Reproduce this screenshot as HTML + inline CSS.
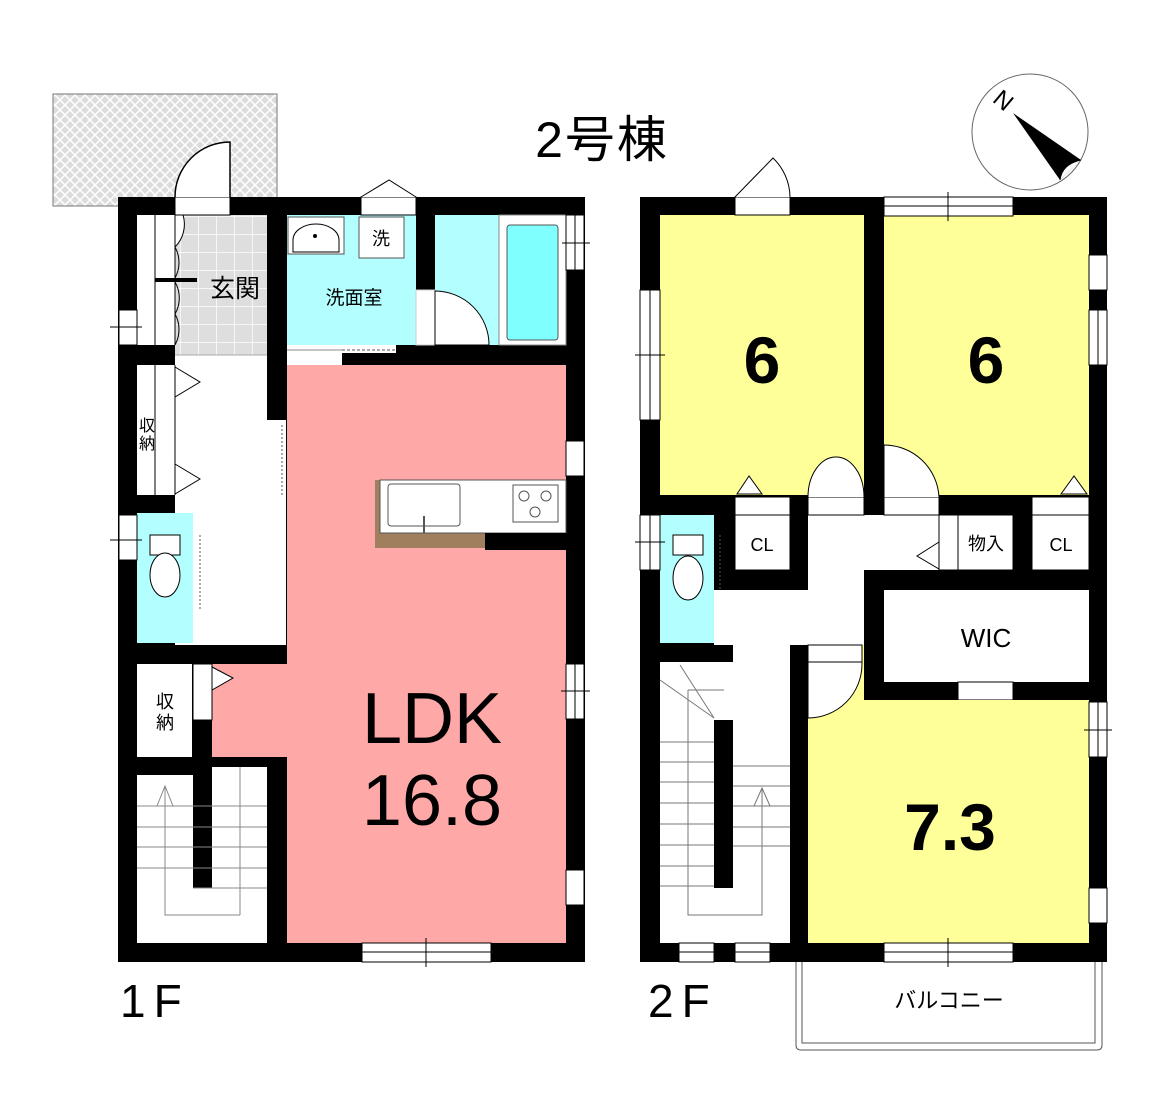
<!DOCTYPE html>
<html><head><meta charset="utf-8"><style>
html,body{margin:0;padding:0;background:#fff;}
svg{display:block}
text{font-family:"Liberation Sans","Noto Sans CJK JP",sans-serif;}
</style></head><body>
<svg width="1166" height="1096" viewBox="0 0 1166 1096" xmlns="http://www.w3.org/2000/svg">
<defs>
<pattern id="hatch" width="10" height="10" patternUnits="userSpaceOnUse">
<rect width="10" height="10" fill="#dcdcdc"/>
<path d="M0 0L10 10M10 0L0 10" stroke="#fff" stroke-width="1.5"/>
</pattern>
<pattern id="tile" width="18" height="18" patternUnits="userSpaceOnUse">
<rect width="18" height="18" fill="#dedede"/>
<path d="M0 0H18M0 0V18" stroke="#fff" stroke-width="1.5"/>
</pattern>
</defs>

<text x="602" y="157" font-size="50" text-anchor="middle" letter-spacing="2">2号棟</text>

<circle cx="1030" cy="132" r="58" fill="#fff" stroke="#666" stroke-width="1"/>
<polygon points="1013,113 1081,160 1060,180" fill="#000"/>
<path d="M1060,180 Q1062,164 1081,160" fill="#fff" stroke="#000" stroke-width="1"/>
<text x="1002" y="108" font-size="24" font-family="Liberation Serif" transform="rotate(40 1002 102)" text-anchor="middle">N</text>

<rect x="53" y="94" width="224" height="112" fill="url(#hatch)" stroke="#777" stroke-width="1"/>

<!-- ============ 1F ============ -->
<rect x="118" y="197" width="467" height="765" fill="#000"/>
<rect x="137" y="215" width="38" height="130" fill="#fff"/>
<rect x="175" y="215" width="92" height="140" fill="url(#tile)"/>
<line x1="155" y1="215" x2="155" y2="345" stroke="#000"/>
<line x1="175" y1="215" x2="175" y2="345" stroke="#000"/>
<rect x="155" y="278" width="42" height="4" fill="#000"/>
<path d="M175,215 H183 A32,32 0 0 1 175,247 Z" fill="#fff" stroke="#000"/>
<path d="M175,247 A32,32 0 0 1 175,278" fill="none" stroke="#000"/>
<path d="M175,282 A32,32 0 0 1 175,314" fill="none" stroke="#000"/>
<path d="M175,314 A32,32 0 0 1 175,345" fill="none" stroke="#000"/>
<text x="235" y="297" font-size="25" text-anchor="middle">玄関</text>
<rect x="175" y="197" width="55" height="18" fill="#fff" stroke="#000" stroke-width="1"/>
<path d="M175,197 A55,55 0 0 1 230,142 L230,197" fill="#fff" stroke="#000" stroke-width="1.5"/>
<rect x="175" y="355" width="92" height="290" fill="#fff"/>
<line x1="175" y1="355" x2="267" y2="355" stroke="#aaa"/>
<rect x="137" y="365" width="38" height="130" fill="#fff"/>
<line x1="155" y1="365" x2="155" y2="495" stroke="#000"/>
<line x1="175" y1="365" x2="175" y2="495" stroke="#000"/>
<polygon points="175,367 200,382 175,397" fill="#fff" stroke="#000"/>
<polygon points="175,464 200,479 175,494" fill="#fff" stroke="#000"/>
<text x="147" y="431" font-size="16" text-anchor="middle">収</text>
<text x="147" y="449" font-size="16" text-anchor="middle">納</text>
<rect x="119" y="310" width="18" height="35" fill="#fff" stroke="#000" stroke-width="1"/>
<line x1="110" y1="327" x2="142" y2="327" stroke="#000"/>
<rect x="137" y="513" width="56" height="130" fill="#b3ffff"/>
<rect x="193" y="535" width="19" height="108" fill="#fff"/>
<line x1="200" y1="535" x2="200" y2="610" stroke="#555" stroke-dasharray="2,2"/>
<rect x="150" y="535" width="30" height="20" fill="#fff" stroke="#000"/>
<ellipse cx="165" cy="575" rx="15" ry="22" fill="#fff" stroke="#000"/>
<rect x="119" y="515" width="18" height="45" fill="#fff" stroke="#000" stroke-width="1"/>
<line x1="110" y1="540" x2="142" y2="540" stroke="#000"/>
<rect x="287" y="365" width="279" height="578" fill="#ffa8a8"/>
<rect x="212" y="664" width="80" height="93" fill="#ffa8a8"/>
<rect x="193" y="664" width="19" height="56" fill="#fff" stroke="#000" stroke-width="1"/>
<polygon points="212,667 233,678 212,690" fill="#fff" stroke="#000"/>
<rect x="267" y="420" width="19" height="75" fill="#fff"/>
<line x1="282" y1="425" x2="282" y2="495" stroke="#555" stroke-dasharray="2,2"/>
<rect x="267" y="495" width="19" height="150" fill="#fff"/>
<rect x="137" y="664" width="55" height="93" fill="#fff"/>
<text x="165" y="708" font-size="18" text-anchor="middle">収</text>
<text x="165" y="729" font-size="18" text-anchor="middle">納</text>
<rect x="137" y="775" width="56" height="168" fill="#fff"/>
<rect x="212" y="767" width="55" height="176" fill="#fff"/>
<rect x="193" y="888" width="19" height="55" fill="#fff"/>
<g stroke="#888" stroke-width="1">
<line x1="137" y1="806" x2="267" y2="806"/><line x1="137" y1="827" x2="267" y2="827"/>
<line x1="137" y1="847" x2="267" y2="847"/><line x1="137" y1="868" x2="267" y2="868"/>
<line x1="193" y1="888" x2="267" y2="888"/><line x1="240" y1="767" x2="240" y2="915"/>
<polyline points="165,786 165,915 240,915" fill="none"/>
<polyline points="157,806 165,786 173,806" fill="none"/>
</g>
<rect x="375" y="480" width="110" height="68" fill="#a07f5f"/>
<rect x="380" y="480" width="186" height="53" fill="#fff" stroke="#555" stroke-width="1"/>
<rect x="388" y="484" width="72" height="42" rx="3" fill="#fff" stroke="#555"/>
<line x1="424" y1="516" x2="424" y2="533" stroke="#555" stroke-width="2"/>
<rect x="513" y="485" width="45" height="37" fill="#fff" stroke="#555"/>
<circle cx="524" cy="496" r="5" fill="#fff" stroke="#555"/>
<circle cx="546" cy="496" r="5" fill="#fff" stroke="#555"/>
<circle cx="535" cy="512" r="5" fill="#fff" stroke="#555"/>
<rect x="485" y="533" width="81" height="17" fill="#000"/>
<text x="432" y="743" font-size="72" text-anchor="middle">LDK</text>
<text x="432" y="825" font-size="72" text-anchor="middle">16.8</text>
<rect x="287" y="215" width="129" height="130" fill="#b3ffff"/>
<rect x="287" y="345" width="55" height="20" fill="#fff"/>
<line x1="287" y1="350" x2="342" y2="350" stroke="#888"/>
<rect x="342" y="345" width="54" height="8" fill="#fff"/>
<line x1="342" y1="350" x2="396" y2="350" stroke="#555" stroke-dasharray="3,2"/>
<rect x="288" y="217" width="56" height="37" fill="#fff" stroke="#555"/>
<path d="M293,252 L293,240 A23,16 0 0 1 339,240 L339,252Z" fill="#fff" stroke="#000"/>
<circle cx="315" cy="236" r="2" fill="#000"/>
<rect x="359" y="217" width="45" height="41" fill="#fff" stroke="#555"/>
<text x="381" y="245" font-size="18" text-anchor="middle">洗</text>
<text x="354" y="304" font-size="19" text-anchor="middle">洗面室</text>
<rect x="361" y="197" width="55" height="18" fill="#fff" stroke="#000" stroke-width="1"/>
<polyline points="361,197 389,180 416,197" fill="#fff" stroke="#000"/>
<rect x="435" y="215" width="65" height="130" fill="#b3ffff"/>
<rect x="416" y="290" width="19" height="55" fill="#fff" stroke="#ccc" stroke-width="1"/>
<path d="M435,291 A54,54 0 0 1 489,345 L435,345Z" fill="#fff" stroke="#000"/>
<rect x="499" y="215" width="67" height="130" fill="#fff" stroke="#888"/>
<rect x="507" y="225" width="51" height="115" rx="3" fill="#80ffff" stroke="#555"/>
<rect x="566" y="215" width="18" height="55" fill="#fff" stroke="#000" stroke-width="1"/>
<line x1="575" y1="215" x2="575" y2="270" stroke="#000"/>
<line x1="562" y1="243" x2="590" y2="243" stroke="#000"/>
<rect x="566" y="441" width="18" height="35" fill="#fff" stroke="#000" stroke-width="1"/>
<rect x="566" y="664" width="18" height="55" fill="#fff" stroke="#000" stroke-width="1"/>
<line x1="575" y1="664" x2="575" y2="719" stroke="#000"/>
<line x1="561" y1="691" x2="590" y2="691" stroke="#000"/>
<rect x="566" y="870" width="18" height="35" fill="#fff" stroke="#000" stroke-width="1"/>
<rect x="362" y="943" width="129" height="19" fill="#fff" stroke="#000" stroke-width="1"/>
<line x1="362" y1="952" x2="491" y2="952" stroke="#000"/>
<line x1="426" y1="938" x2="426" y2="967" stroke="#000"/>
<text x="120" y="1017" font-size="46" letter-spacing="8">1F</text>

<!-- ============ 2F ============ -->
<rect x="640" y="197" width="467" height="765" fill="#000"/>
<rect x="660" y="215" width="204" height="280" fill="#ffff99"/>
<rect x="884" y="215" width="205" height="280" fill="#ffff99"/>
<text x="762" y="383" font-size="66" font-weight="bold" text-anchor="middle">6</text>
<text x="986" y="383" font-size="66" font-weight="bold" text-anchor="middle">6</text>
<rect x="735" y="197" width="55" height="18" fill="#fff" stroke="#000" stroke-width="1"/>
<path d="M735,197 L773,158 A55,55 0 0 1 790,197" fill="#fff" stroke="#000"/>
<rect x="884" y="197" width="129" height="19" fill="#fff" stroke="#000" stroke-width="1"/>
<line x1="884" y1="206" x2="1013" y2="206" stroke="#000"/>
<line x1="948" y1="192" x2="948" y2="221" stroke="#000"/>
<rect x="640" y="290" width="20" height="130" fill="#fff" stroke="#000" stroke-width="1"/>
<line x1="650" y1="290" x2="650" y2="420" stroke="#000"/>
<line x1="635" y1="355" x2="665" y2="355" stroke="#000"/>
<rect x="1089" y="255" width="18" height="35" fill="#fff" stroke="#000" stroke-width="1"/>
<rect x="1089" y="310" width="18" height="55" fill="#fff" stroke="#000" stroke-width="1"/>
<line x1="1098" y1="310" x2="1098" y2="365" stroke="#000"/>
<!-- hall 2F -->
<rect x="808" y="515" width="150" height="55" fill="#fff"/>
<rect x="808" y="570" width="56" height="75" fill="#fff"/>
<rect x="735" y="590" width="129" height="55" fill="#fff"/>
<rect x="733" y="645" width="57" height="298" fill="#fff"/>
<rect x="808" y="497" width="56" height="18" fill="#fff" stroke="#000" stroke-width="1"/>
<path d="M808,497 A28,40 0 0 1 864,497" fill="#fff" stroke="#000"/>
<rect x="884" y="497" width="55" height="18" fill="#fff" stroke="#000" stroke-width="1"/>
<path d="M884,497 L884,445 A55,55 0 0 1 939,497" fill="#fff" stroke="#000"/>
<rect x="735" y="497" width="55" height="73" fill="#fff" stroke="#000" stroke-width="1"/>
<line x1="735" y1="515" x2="790" y2="515" stroke="#000"/>
<polygon points="737,494 749,476 762,494" fill="#fff" stroke="#000"/>
<text x="762" y="551" font-size="18" text-anchor="middle">CL</text>
<rect x="958" y="515" width="55" height="55" fill="#fff" stroke="#000" stroke-width="1"/>
<rect x="939" y="515" width="19" height="55" fill="#fff" stroke="#000" stroke-width="1"/>
<polygon points="939,542 917,556 939,569" fill="#fff" stroke="#000"/>
<text x="986" y="550" font-size="18" text-anchor="middle">物入</text>
<rect x="1032" y="497" width="57" height="73" fill="#fff" stroke="#000" stroke-width="1"/>
<line x1="1032" y1="515" x2="1089" y2="515" stroke="#000"/>
<polygon points="1061,494 1074,476 1087,494" fill="#fff" stroke="#000"/>
<text x="1061" y="551" font-size="18" text-anchor="middle">CL</text>
<rect x="884" y="590" width="205" height="92" fill="#fff"/>
<text x="986" y="647" font-size="26" text-anchor="middle">WIC</text>
<rect x="958" y="682" width="55" height="18" fill="#fff" stroke="#000" stroke-width="1"/>
<polygon points="986,700 998,720 1010,700" fill="#fff" stroke="#000"/>
<rect x="660" y="515" width="54" height="128" fill="#b3ffff"/>
<rect x="714" y="590" width="21" height="55" fill="#fff"/>
<line x1="720" y1="535" x2="720" y2="590" stroke="#555" stroke-dasharray="2,2"/>
<rect x="673" y="535" width="30" height="20" fill="#fff" stroke="#000"/>
<ellipse cx="688" cy="578" rx="15" ry="22" fill="#fff" stroke="#000"/>
<rect x="640" y="515" width="20" height="55" fill="#fff" stroke="#000" stroke-width="1"/>
<line x1="650" y1="515" x2="650" y2="570" stroke="#000"/>
<line x1="635" y1="542" x2="665" y2="542" stroke="#000"/>
<rect x="660" y="662" width="54" height="281" fill="#fff"/>
<rect x="714" y="662" width="19" height="58" fill="#fff"/>
<rect x="714" y="888" width="19" height="55" fill="#fff"/>
<g stroke="#777" stroke-width="1">
<line x1="680" y1="665" x2="714" y2="718"/><line x1="660" y1="680" x2="714" y2="718"/>
<line x1="688" y1="690" x2="724" y2="690"/>
<line x1="660" y1="742" x2="714" y2="742"/><line x1="660" y1="762" x2="714" y2="762"/>
<line x1="660" y1="782" x2="714" y2="782"/><line x1="660" y1="803" x2="714" y2="803"/>
<line x1="660" y1="824" x2="714" y2="824"/><line x1="660" y1="845" x2="714" y2="845"/>
<line x1="660" y1="866" x2="714" y2="866"/><line x1="660" y1="886" x2="714" y2="886"/>
<line x1="733" y1="766" x2="790" y2="766"/><line x1="733" y1="786" x2="790" y2="786"/>
<line x1="733" y1="806" x2="790" y2="806"/><line x1="733" y1="827" x2="790" y2="827"/>
<line x1="733" y1="846" x2="790" y2="846"/>
<polyline points="688,690 688,915 762,915 762,788" fill="none"/>
<polyline points="754,806 762,788 770,806" fill="none"/>
</g>
<rect x="808" y="700" width="281" height="243" fill="#ffff99"/>
<rect x="808" y="645" width="56" height="55" fill="#ffff99"/>
<path d="M808,718 A54,54 0 0 0 862,664 L862,645 L808,645Z" fill="#fff" stroke="#000"/>
<line x1="808" y1="662" x2="862" y2="662" stroke="#000"/>
<text x="950" y="850" font-size="66" font-weight="bold" text-anchor="middle">7.3</text>
<rect x="1089" y="702" width="18" height="55" fill="#fff" stroke="#000" stroke-width="1"/>
<line x1="1098" y1="702" x2="1098" y2="757" stroke="#000"/>
<line x1="1084" y1="730" x2="1112" y2="730" stroke="#000"/>
<rect x="1089" y="888" width="18" height="35" fill="#fff" stroke="#000" stroke-width="1"/>
<rect x="679" y="943" width="35" height="19" fill="#fff" stroke="#000" stroke-width="1"/>
<line x1="679" y1="952" x2="714" y2="952" stroke="#000"/>
<rect x="735" y="943" width="35" height="19" fill="#fff" stroke="#000" stroke-width="1"/>
<line x1="735" y1="952" x2="770" y2="952" stroke="#000"/>
<rect x="884" y="943" width="129" height="19" fill="#fff" stroke="#000" stroke-width="1"/>
<line x1="884" y1="952" x2="1013" y2="952" stroke="#000"/>
<line x1="948" y1="938" x2="948" y2="967" stroke="#000"/>
<path d="M796,962 V1045 Q796,1050 801,1050 H1097 Q1102,1050 1102,1045 V962" fill="none" stroke="#555" stroke-width="1"/>
<path d="M802,962 V1043 H1095 V962" fill="none" stroke="#555" stroke-width="1"/>
<text x="949" y="1008" font-size="22" text-anchor="middle">バルコニー</text>
<text x="648" y="1017" font-size="46" letter-spacing="8">2F</text>
</svg>
</body></html>
